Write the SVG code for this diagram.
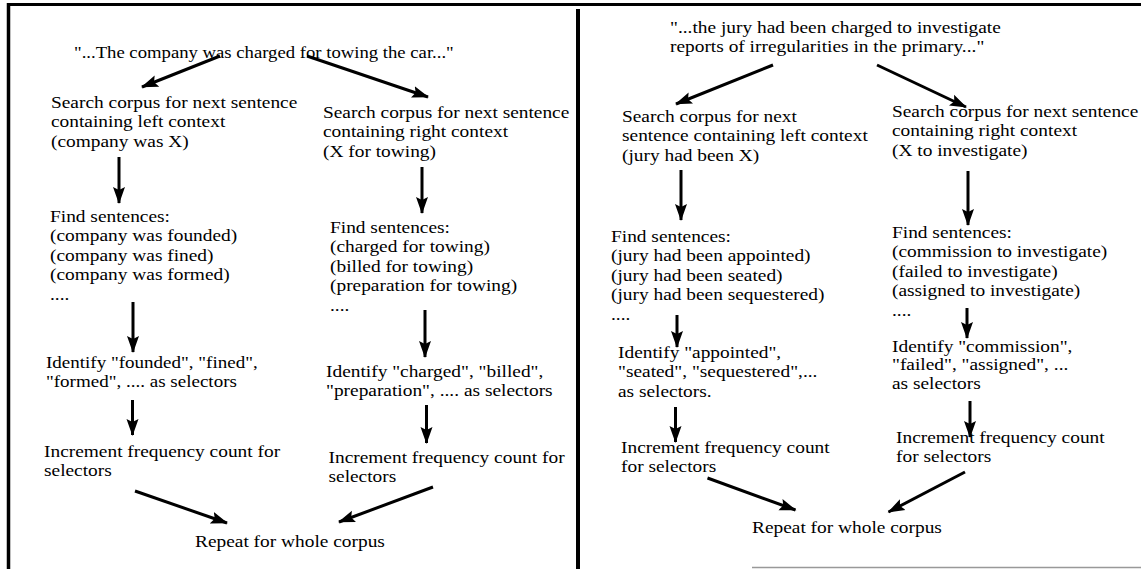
<svg xmlns="http://www.w3.org/2000/svg" width="1141" height="569" viewBox="0 0 1141 569">
<style>
text{font-family:'Liberation Serif','Times New Roman',serif;font-size:17px;fill:#000}
.ar{stroke:#000;stroke-width:3;fill:none;marker-end:url(#ah)}
.frame{stroke:#000;fill:none}
</style>
<defs>
<marker id="ah" markerUnits="userSpaceOnUse" markerWidth="18" markerHeight="14" refX="16" refY="7" orient="auto">
<path d="M0,1 L17,7 L0,13 L3,7 z" fill="#000"/>
</marker>
</defs>
<rect width="1141" height="569" fill="#fff"/>
<g id="frame">
<line class="frame" x1="7" y1="4.5" x2="1141" y2="4.5" stroke-width="3"/>
<line class="frame" x1="8.5" y1="3" x2="8.5" y2="569" stroke-width="3.5"/>
<line class="frame" x1="578" y1="9" x2="578" y2="569" stroke-width="4"/>
<line x1="752" y1="567.5" x2="1141" y2="567.5" stroke="#999" stroke-width="1.5"/>
</g>
<g id="connectors">
<line class="ar" x1="220" y1="56" x2="142" y2="87"/>
<line class="ar" x1="307" y1="56" x2="428" y2="97"/>
<line class="ar" x1="119" y1="157" x2="119" y2="203"/>
<line class="ar" x1="422" y1="167" x2="422" y2="213"/>
<line class="ar" x1="133" y1="302" x2="133" y2="352"/>
<line class="ar" x1="425" y1="310" x2="425" y2="357"/>
<line class="ar" x1="132.5" y1="400" x2="132.5" y2="435"/>
<line class="ar" x1="426.5" y1="405" x2="426.5" y2="443"/>
<line class="ar" x1="135" y1="491" x2="227" y2="523"/>
<line class="ar" x1="433" y1="487" x2="339" y2="522"/>
<line class="ar" x1="773" y1="65" x2="676" y2="104"/>
<line class="ar" x1="877" y1="65" x2="966" y2="107"/>
<line class="ar" x1="681" y1="170" x2="681" y2="220"/>
<line class="ar" x1="968" y1="171" x2="968" y2="225"/>
<line class="ar" x1="677" y1="315" x2="677" y2="347"/>
<line class="ar" x1="967" y1="308" x2="967" y2="338"/>
<line class="ar" x1="675.5" y1="407" x2="675.5" y2="442"/>
<line class="ar" x1="970" y1="401" x2="970" y2="437"/>
<line class="ar" x1="707.5" y1="478" x2="795.5" y2="510"/>
<line class="ar" x1="965" y1="472" x2="888.5" y2="512"/>
</g>
<g id="l-title" transform="translate(74,0) scale(1.1,1)"><text x="0" y="58">"...The company was charged for towing the car..."</text></g>
<g id="l-search-left" transform="translate(51,0) scale(1.14,1)"><text x="0" y="108">Search corpus for next sentence</text><text x="0" y="127.5">containing left context</text><text x="0" y="147">(company was X)</text></g>
<g id="l-search-right" transform="translate(323,0) scale(1.14,1)"><text x="0" y="118">Search corpus for next sentence</text><text x="0" y="137.5">containing right context</text><text x="0" y="157">(X for towing)</text></g>
<g id="l-find-left" transform="translate(50,0) scale(1.14,1)"><text x="0" y="222">Find sentences:</text><text x="0" y="241.5">(company was founded)</text><text x="0" y="261">(company was fined)</text><text x="0" y="280.5">(company was formed)</text><text x="0" y="300">....</text></g>
<g id="l-find-right" transform="translate(330,0) scale(1.14,1)"><text x="0" y="233">Find sentences:</text><text x="0" y="252.5">(charged for towing)</text><text x="0" y="272">(billed for towing)</text><text x="0" y="291.5">(preparation for towing)</text><text x="0" y="311">....</text></g>
<g id="l-identify-left" transform="translate(46,0) scale(1.12,1)"><text x="0" y="368">Identify "founded", "fined",</text><text x="0" y="387.5">"formed", .... as selectors</text></g>
<g id="l-identify-right" transform="translate(326,0) scale(1.14,1)"><text x="0" y="377">Identify "charged", "billed",</text><text x="0" y="396.5">"preparation", .... as selectors</text></g>
<g id="l-increment-left" transform="translate(44,0) scale(1.14,1)"><text x="0" y="457">Increment frequency count for</text><text x="0" y="476.5">selectors</text></g>
<g id="l-increment-right" transform="translate(328.5,0) scale(1.14,1)"><text x="0" y="463">Increment frequency count for</text><text x="0" y="482.5">selectors</text></g>
<g id="l-repeat" transform="translate(195,0) scale(1.14,1)"><text x="0" y="547">Repeat for whole corpus</text></g>
<g id="r-title" transform="translate(670,0) scale(1.14,1)"><text x="0" y="33">"...the jury had been charged to investigate</text><text x="0" y="52">reports of irregularities in the primary..."</text></g>
<g id="r-search-left" transform="translate(622,0) scale(1.14,1)"><text x="0" y="122">Search corpus for next</text><text x="0" y="141.5">sentence containing left context</text><text x="0" y="161">(jury had been X)</text></g>
<g id="r-search-right" transform="translate(892,0) scale(1.14,1)"><text x="0" y="117">Search corpus for next sentence</text><text x="0" y="136.5">containing right context</text><text x="0" y="156">(X to investigate)</text></g>
<g id="r-find-left" transform="translate(611,0) scale(1.14,1)"><text x="0" y="242">Find sentences:</text><text x="0" y="261.5">(jury had been appointed)</text><text x="0" y="281">(jury had been seated)</text><text x="0" y="300.5">(jury had been sequestered)</text><text x="0" y="320">....</text></g>
<g id="r-find-right" transform="translate(892,0) scale(1.14,1)"><text x="0" y="238">Find sentences:</text><text x="0" y="257.5">(commission to investigate)</text><text x="0" y="277">(failed to investigate)</text><text x="0" y="296.5">(assigned to investigate)</text><text x="0" y="316">....</text></g>
<g id="r-identify-left" transform="translate(618,0) scale(1.14,1)"><text x="0" y="358">Identify "appointed",</text><text x="0" y="377.5">"seated", "sequestered",...</text><text x="0" y="397">as selectors.</text></g>
<g id="r-identify-right" transform="translate(892,0) scale(1.14,1)"><text x="0" y="352">Identify "commission",</text><text x="0" y="370.5">"failed", "assigned", ...</text><text x="0" y="389">as selectors</text></g>
<g id="r-increment-left" transform="translate(621,0) scale(1.14,1)"><text x="0" y="453">Increment frequency count</text><text x="0" y="472">for selectors</text></g>
<g id="r-increment-right" transform="translate(896,0) scale(1.14,1)"><text x="0" y="443">Increment frequency count</text><text x="0" y="462">for selectors</text></g>
<g id="r-repeat" transform="translate(752,0) scale(1.14,1)"><text x="0" y="533">Repeat for whole corpus</text></g>
</svg>
